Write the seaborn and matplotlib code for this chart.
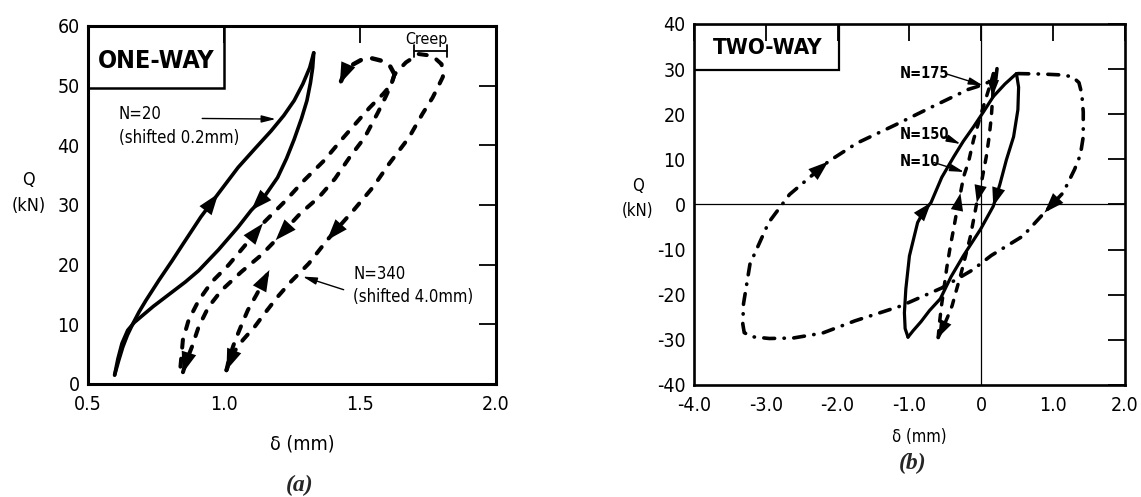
import numpy as np
import matplotlib
matplotlib.use("Agg")
import matplotlib.pyplot as plt
import matplotlib.font_manager as fm
from matplotlib.patches import Rectangle
import seaborn as sns

# ---------------- data : (a) one-way ----------------
n20_load_x = [0.598, 0.612, 0.628, 0.645, 0.665, 0.688, 0.713, 0.761, 0.810, 0.850, 0.915, 0.979,
              1.052, 1.115, 1.173, 1.220, 1.258, 1.290, 1.315, 1.330]
n20_load_y = [1.5, 3.8, 6.2, 8.2, 10.1, 12.1, 14.0, 17.4, 20.7, 23.5, 28.0, 31.9,
              36.3, 39.5, 42.4, 45.0, 47.5, 50.3, 53.0, 55.5]
n20_unload_x = [1.330, 1.326, 1.318, 1.305, 1.285, 1.258, 1.230, 1.197, 1.150, 1.100, 1.052, 0.980,
                0.907, 0.858, 0.786, 0.740, 0.701, 0.670, 0.646, 0.625, 0.610, 0.598]
n20_unload_y = [55.5, 53.0, 50.5, 47.5, 44.5, 41.0, 37.8, 34.6, 31.5, 29.1, 26.3, 22.5,
                19.0, 17.1, 14.6, 13.0, 11.5, 10.3, 9.0, 6.8, 4.2, 1.5]

# N=340 : loading, creep at peak, unloading (dashed)
n340_a_x = [0.840, 0.849, 0.870, 0.907, 0.955, 1.016, 1.088, 1.143, 1.226, 1.294, 1.367, 1.439,
            1.535, 1.585, 1.615, 1.627, 1.669, 1.716, 1.766, 1.800, 1.805, 1.789, 1.767, 1.730,
            1.680, 1.607, 1.548, 1.476, 1.379, 1.312, 1.282, 1.245, 1.197, 1.149, 1.113, 1.070,
            1.034, 1.009]
n340_a_y = [2.9, 7.4, 10.7, 14.0, 17.1, 19.9, 23.8, 26.9, 30.7, 34.1, 37.4, 41.3,
            46.3, 48.6, 50.2, 51.9, 53.9, 55.3, 55.0, 53.6, 51.5, 50.0, 48.0, 45.3,
            41.3, 36.9, 33.0, 29.1, 24.1, 20.2, 18.8, 17.1, 14.6, 11.8, 9.6, 7.4,
            5.2, 2.3]
n340_b_x = [1.627, 1.615, 1.595, 1.566, 1.517, 1.462, 1.408, 1.349, 1.281, 1.190, 1.137, 1.064,
            0.991, 0.943, 0.907, 0.882, 0.863, 0.848]
n340_b_y = [51.9, 50.2, 48.2, 45.5, 41.3, 38.0, 34.4, 31.3, 28.6, 24.1, 21.6, 18.8,
            15.7, 12.9, 9.6, 6.2, 4.0, 1.8]
n340_c_x = [1.009, 1.020, 1.035, 1.052, 1.070, 1.088, 1.120, 1.167]
n340_c_y = [2.3, 4.5, 6.5, 8.5, 10.5, 12.4, 15.0, 19.1]
n340_hook_x = [1.627, 1.603, 1.560, 1.524, 1.476, 1.445, 1.426]
n340_hook_y = [51.9, 53.9, 54.4, 54.8, 53.6, 52.3, 50.3]
creep_x = [1.700, 1.820]
creep_y = [55.8, 55.8]

a_xticks = [0.5, 1.0, 1.5, 2.0]
a_xticklabels = ["0.5", "1.0", "1.5", "2.0"]
a_yticks = [0, 10, 20, 30, 40, 50, 60]

# ---------------- data : (b) two-way ----------------
n175_x = [0.51, 0.85, 1.12, 1.27, 1.36, 1.40, 1.42, 1.42, 1.38, 1.30, 1.14, 0.88, 0.58, 0.14,
          -0.12, -0.55, -1.12, -1.76, -2.21, -2.62, -2.95, -3.20, -3.30, -3.32, -3.31, -3.22,
          -2.96, -2.67, -2.13, -1.73, -1.20, -0.69, -0.18, -0.06, 0.12, 0.20, 0.22]
n175_y = [29.0, 28.9, 28.7, 28.3, 27.0, 24.5, 20.5, 15.0, 11.0, 7.8, 2.6, -1.8, -7.0, -11.3,
          -14.5, -18.5, -22.5, -25.8, -28.5, -29.6, -29.7, -29.3, -28.4, -26.5, -22.0, -13.2,
          -4.0, 2.2, 9.5, 13.6, 17.6, 21.6, 25.5, 26.1, 27.2, 27.5, 30.2]
n150_up_x = [-1.02, -1.06, -1.07, -1.05, -1.00, -0.94, -0.886, -0.80, -0.70, -0.55, -0.382,
             -0.25, -0.108, 0.03, 0.167, 0.33, 0.49]
n150_up_y = [-29.4, -27.5, -24.0, -18.7, -11.4, -7.5, -4.0, -1.5, 0.4, 6.0, 10.6,
             14.0, 17.2, 20.5, 23.9, 26.7, 29.0]
n150_down_x = [0.49, 0.52, 0.51, 0.45, 0.35, 0.26, 0.167, -0.01, -0.25, -0.42, -0.57, -0.72,
               -0.84, -0.95, -1.02]
n150_down_y = [29.0, 26.0, 21.0, 15.0, 9.9, 4.5, -0.4, -5.5, -11.4, -16.0, -20.9, -23.5,
               -26.0, -28.0, -29.4]
n10_up_x = [-0.60, -0.58, -0.55, -0.52, -0.48, -0.43, -0.38, -0.336, -0.29, -0.245, -0.176,
            -0.108, 0.00, 0.10, 0.17]
n10_up_y = [-29.5, -26.0, -22.0, -18.7, -14.0, -9.2, -5.0, -1.1, 2.5, 6.2, 9.5,
            14.3, 20.2, 25.3, 29.0]
n10_down_x = [0.17, 0.16, 0.14, 0.11, 0.07, 0.01, -0.062, -0.15, -0.22, -0.29, -0.35, -0.405,
              -0.47, -0.53, -0.60]
n10_down_y = [29.0, 24.0, 19.4, 15.0, 10.6, 5.5, 0.4, -7.0, -11.5, -15.8, -19.2, -22.4,
              -25.0, -27.2, -29.5]

b_xticks = [-4, -3, -2, -1, 0, 1, 2]
b_xticklabels = ["-4.0", "-3.0", "-2.0", "-1.0", "0", "1.0", "2.0"]
b_yticks = [-40, -30, -20, -10, 0, 10, 20, 30, 40]

# ---------------- style ----------------
sns.set_theme(style="white")


def pick_font():
    entries = fm.fontManager.ttflist
    for f in entries:
        if f.name == "DejaVu Sans" and "condensed" in str(f.stretch):
            return "DejaVu Sans", "condensed"
    for name in ["Liberation Sans Narrow", "Roboto Condensed", "Open Sans Condensed"]:
        if any(f.name == name for f in entries):
            return name, "normal"
    return "DejaVu Sans", "normal"


FAM, STRETCH = pick_font()
plt.rcParams["font.family"] = [FAM, "DejaVu Sans"]
plt.rcParams["font.stretch"] = STRETCH
plt.rcParams["axes.unicode_minus"] = False

TXT = dict(family=FAM, stretch=STRETCH, color="black")
DASH = (0, (2.0, 2.75))
DASHDOT = (0, (3.0, 2.6, 0.1, 2.6))

fig = plt.figure(figsize=(11.41, 4.97), dpi=100)
fig.patch.set_facecolor("white")
axa = fig.add_axes([0.0771, 0.2274, 0.3576, 0.7203])
axb = fig.add_axes([0.6082, 0.2254, 0.3777, 0.7264])


def curve(ax, xs, ys, ls="-", lw=2.6):
    sns.lineplot(x=np.asarray(xs), y=np.asarray(ys), ax=ax, sort=False, estimator=None,
                 color="black", lw=lw, linestyle=ls, dash_capstyle="round",
                 solid_capstyle="round", solid_joinstyle="round", legend=False)


def head(ax, xs, ys, i, size=17):
    ax.annotate("", xy=(xs[i], ys[i]), xytext=(xs[i - 1], ys[i - 1]),
                arrowprops=dict(arrowstyle="-|>,head_length=0.9,head_width=0.32",
                                mutation_scale=size, fc="black", ec="black", lw=0,
                                shrinkA=0, shrinkB=0))


def pointer(ax, start, end):
    ax.annotate("", xy=end, xytext=start,
                arrowprops=dict(arrowstyle="-|>,head_length=0.7,head_width=0.18",
                                mutation_scale=12, color="black", lw=1.0,
                                shrinkA=0, shrinkB=0))


def frame(ax, xlim, ylim, xticks, xlabels, yticks, spine_lw=2.0):
    ax.set_xlim(*xlim)
    ax.set_ylim(*ylim)
    ax.set_xticks(xticks)
    ax.set_xticklabels(xlabels)
    ax.set_yticks(yticks)
    ax.set_yticklabels([str(v) for v in yticks])
    ax.tick_params(direction="in", length=12, width=1.3, top=True, right=True,
                   labelsize=14, colors="black")
    ax.tick_params(axis="x", pad=8)
    ax.tick_params(axis="y", pad=6)
    for lab in ax.get_xticklabels() + ax.get_yticklabels():
        lab.set_fontfamily(FAM)
        lab.set_fontstretch(STRETCH)
    for s in ax.spines.values():
        s.set_visible(True)
        s.set_linewidth(spine_lw)
        s.set_color("black")
    ax.set_facecolor("white")
    ax.grid(False)
    ax.set_xlabel("")
    ax.set_ylabel("")


# ---------------- (a) ----------------
curve(axa, n20_load_x, n20_load_y, "-", 2.6)
curve(axa, n20_unload_x, n20_unload_y, "-", 2.6)
curve(axa, n340_a_x, n340_a_y, DASH, 2.9)
curve(axa, n340_b_x, n340_b_y, DASH, 2.9)
curve(axa, n340_c_x, n340_c_y, DASH, 2.9)
curve(axa, n340_hook_x, n340_hook_y, DASH, 3.2)

head(axa, n20_load_x, n20_load_y, 11)
head(axa, n20_unload_x, n20_unload_y, 9)
head(axa, n340_a_x, n340_a_y, 7)
head(axa, n340_a_x, n340_a_y, 28)
head(axa, n340_a_x, n340_a_y, len(n340_a_x) - 1)
head(axa, n340_b_x, n340_b_y, 9)
head(axa, n340_b_x, n340_b_y, len(n340_b_x) - 1)
head(axa, n340_c_x, n340_c_y, len(n340_c_x) - 1)
head(axa, n340_hook_x, n340_hook_y, len(n340_hook_x) - 1)

# creep bracket
axa.plot(creep_x, creep_y, color="black", lw=1.3)
for cx in creep_x:
    axa.plot([cx, cx], [creep_y[0] - 1.0, creep_y[0] + 1.0], color="black", lw=1.3)
axa.text(1.745, 57.7, "Creep", fontsize=11.5, ha="center", va="center", **TXT)

axa.add_patch(Rectangle((0.5, 49.6), 0.5, 10.4, fill=False, lw=1.8, ec="black", zorder=3))
axa.text(0.75, 54.2, "ONE-WAY", fontsize=18, fontweight="bold", ha="center", va="center", **TXT)

axa.text(0.614, 45.2, "N=20", fontsize=12, ha="left", va="center", **TXT)
axa.text(0.614, 41.3, "(shifted 0.2mm)", fontsize=12, ha="left", va="center", **TXT)
pointer(axa, (0.92, 44.5), (1.19, 44.4))
axa.text(1.475, 18.5, "N=340", fontsize=12, ha="left", va="center", **TXT)
axa.text(1.475, 14.6, "(shifted 4.0mm)", fontsize=12, ha="left", va="center", **TXT)
pointer(axa, (1.44, 15.8), (1.29, 18.0))

frame(axa, (0.5, 2.0), (0, 60), a_xticks, a_xticklabels, a_yticks, 2.2)
axa.set_ylabel("Q\n(kN)", rotation=0, fontsize=13, linespacing=1.6, **TXT)
axa.yaxis.set_label_coords(-0.145, 0.472)
axa.set_xlabel("δ (mm)", fontsize=14, **TXT)
axa.xaxis.set_label_coords(0.524, -0.142)

# ---------------- (b) ----------------
axb.axhline(0, color="black", lw=0.9, zorder=1)
axb.axvline(0, color="black", lw=0.9, zorder=1)
curve(axb, n175_x, n175_y, DASHDOT, 2.6)
curve(axb, n150_up_x, n150_up_y, "-", 2.3)
curve(axb, n150_down_x, n150_down_y, "-", 2.3)
curve(axb, n10_up_x, n10_up_y, DASH, 2.5)
curve(axb, n10_down_x, n10_down_y, DASH, 2.5)

head(axb, n175_x, n175_y, 28, 16)
head(axb, n175_x, n175_y, 11, 16)
head(axb, n150_up_x, n150_up_y, 8, 15)
head(axb, n150_down_x, n150_down_y, 6, 15)
head(axb, n10_up_x, n10_up_y, 8, 14)
head(axb, n10_down_x, n10_down_y, 6, 14)
head(axb, n10_down_x, n10_down_y, 1, 13)
head(axb, n10_down_x, n10_down_y, len(n10_down_x) - 1, 14)

axb.add_patch(Rectangle((-4.0, 29.7), 2.02, 10.3, fill=False, lw=1.6, ec="black", zorder=3))
axb.text(-2.97, 34.6, "TWO-WAY", fontsize=16, fontweight="bold", ha="center", va="center", **TXT)

axb.text(-1.13, 29.0, "N=175", fontsize=10.5, fontweight="bold", ha="left", va="center", **TXT)
pointer(axb, (-0.50, 29.0), (0.02, 26.4))
axb.text(-1.13, 15.4, "N=150", fontsize=10.5, fontweight="bold", ha="left", va="center", **TXT)
pointer(axb, (-0.52, 15.0), (-0.29, 13.4))
axb.text(-1.13, 9.5, "N=10", fontsize=10.5, fontweight="bold", ha="left", va="center", **TXT)
pointer(axb, (-0.66, 9.3), (-0.24, 7.2))

frame(axb, (-4.0, 2.0), (-40, 40), b_xticks, b_xticklabels, b_yticks, 1.9)
axb.set_ylabel("Q\n(kN)", rotation=0, fontsize=12, linespacing=1.5, **TXT)
axb.yaxis.set_label_coords(-0.13, 0.457)
axb.set_xlabel("δ (mm)", fontsize=12, **TXT)
axb.xaxis.set_label_coords(0.522, -0.119)

# captions
fig.text(0.263, 0.024, "(a)", fontsize=17, fontweight="bold", fontstyle="italic",
         family="Liberation Serif", ha="center", va="center")
fig.text(0.800, 0.068, "(b)", fontsize=17, fontweight="bold", fontstyle="italic",
         family="Liberation Serif", ha="center", va="center")

fig.savefig("out.png", dpi=100, facecolor="white")
